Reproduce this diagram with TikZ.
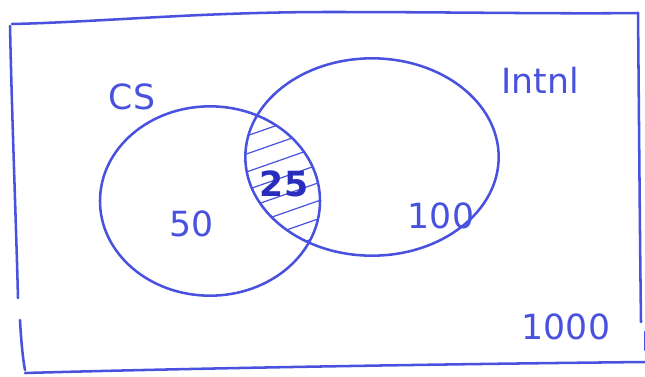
\documentclass[tikz,border=0pt]{standalone}
\usepackage{fontspec}
\setmainfont{DejaVu Sans}
\definecolor{pen}{RGB}{72,82,222}
\definecolor{pendark}{RGB}{40,45,190}
\begin{document}
\begin{tikzpicture}[x=0.75pt,y=-0.75pt,
  ink/.style={draw=pen,line width=1.9pt,line cap=round,line join=round},
  hatch/.style={draw=pen,line width=0.9pt,line cap=round},
  lbl/.style={text=pen,font=\fontsize{26}{28}\selectfont}]
\useasboundingbox (0,0) rectangle (645,376);
% frame
\draw[ink] (12,24) .. controls (100,22) and (200,12) .. (330,12) .. controls (450,12) and (560,14) .. (638,13);
\draw[ink] (10,26) .. controls (12,120) and (16,220) .. (18,298);
\draw[ink] (20,320) .. controls (21,340) and (23,360) .. (25,370);
\draw[ink] (25,373) .. controls (200,368) and (450,364) .. (645,362);
\draw[ink] (638,13) .. controls (639,120) and (640,250) .. (641,322);
\draw[ink] (645,332) -- (645,350);
% circles
\coordinate (cs) at (210,201);
\coordinate (in) at (372,157);
\draw[ink] (cs) ellipse [x radius=82.5pt, y radius=71pt];
\draw[ink] (in) ellipse [x radius=95pt, y radius=74pt];
% hatching
\begin{scope}
  \clip (cs) ellipse [x radius=82.5pt, y radius=71pt];
  \clip (in) ellipse [x radius=95pt, y radius=74pt];
  \foreach \k in {0,...,8} {
    \draw[hatch] (235,{140+\k*18}) -- (335,{105+\k*18});
  }
\end{scope}
% labels
\node[lbl] (lcs) at (132,97) {CS};
\node[lbl] (lin) at (540,80) {Intnl};
\node[lbl] (l50) at (192,224) {50};
\node[lbl] (l100) at (441,216) {100};
\node[lbl,text=pendark,font=\fontsize{26}{28}\selectfont\bfseries] (l25) at (284,184) {25};
\node[lbl] (l1000) at (566,327) {1000};
\end{tikzpicture}
\end{document}
